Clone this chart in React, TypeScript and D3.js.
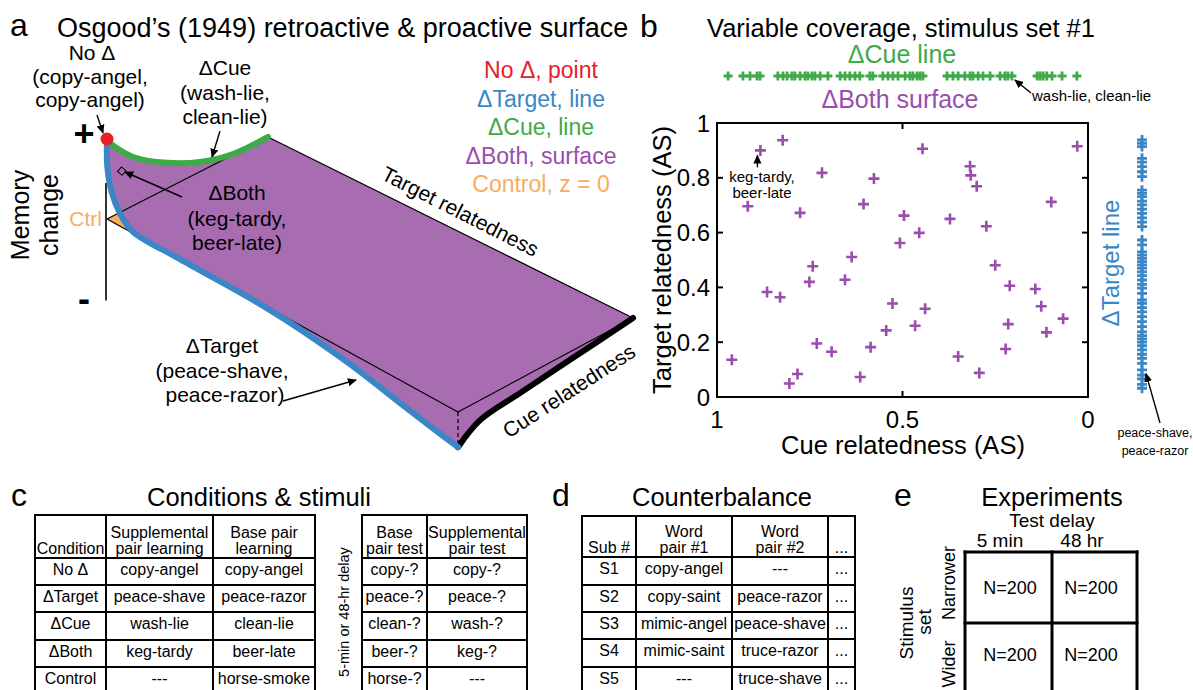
import React from "react";
import * as d3 from "d3";

const FONT = '"Liberation Sans", Arial, Helvetica, sans-serif';
const RED = "#E3222B";
const BLUE = "#3A86C6";
const GREEN = "#3EAA48";
const PURPLE_FILL = "#A86CB1";
const PURPLE = "#9A4DAE";
const ORANGE = "#F7AC62";

// ---------------- Panel a: schematic surface (values in abstract units) ----------------
// ΔCue line: [cue change, memory change]
const cueCurve: [number, number][] = [
  [0, 1], [0.019, 0.93], [0.161, 0.61], [0.373, 0.32], [0.578, 0.12], [0.783, 0.01], [1, 0],
];
// ΔTarget line: [target change, memory change]
const targetCurve: [number, number][] = [
  [0, 1], [0.001, 0.65], [0.014, 0.36], [0.037, 0.16], [0.074, 0.02], [0.2, 0], [0.4, -0.005],
  [0.5, -0.03], [0.6, -0.08], [0.7, -0.15], [0.8, -0.25], [0.9, -0.35], [1, -0.44],
];
// far edge (target change = 1): [cue change, memory change]
const farCurve: [number, number][] = [
  [0, -0.44], [0.126, -0.25], [0.354, -0.18], [0.64, -0.1], [1, 0],
];
const legendA = [
  { label: "No Δ, point", color: RED },
  { label: "ΔTarget, line", color: BLUE },
  { label: "ΔCue, line", color: GREEN },
  { label: "ΔBoth, surface", color: PURPLE },
  { label: "Control, z = 0", color: ORANGE },
];

// ---------------- Panel b data ----------------
const scatterCue = [
  0.96, 0.917, 0.883, 0.823, 0.865, 0.83, 0.805, 0.783, 0.776, 0.751, 0.742, 0.731, 0.717, 0.691,
  0.655, 0.637, 0.614, 0.605, 0.586, 0.577, 0.544, 0.527, 0.507, 0.496, 0.466, 0.455, 0.446, 0.439,
  0.372, 0.35, 0.318, 0.316, 0.3, 0.293, 0.274, 0.25, 0.222, 0.215, 0.211, 0.142, 0.126, 0.112,
  0.099, 0.067, 0.029,
];
const scatterTarget = [
  0.136, 0.696, 0.9, 0.937, 0.383, 0.364, 0.049, 0.084, 0.672, 0.42, 0.477, 0.195, 0.818, 0.165,
  0.428, 0.511, 0.073, 0.704, 0.182, 0.797, 0.243, 0.341, 0.562, 0.662, 0.26, 0.599, 0.906, 0.322,
  0.65, 0.148, 0.842, 0.809, 0.769, 0.088, 0.623, 0.481, 0.175, 0.266, 0.406, 0.394, 0.331, 0.236,
  0.712, 0.286, 0.915,
];
const cueLineValues = [
  0.97, 0.93, 0.911, 0.892, 0.884, 0.836, 0.822, 0.811, 0.798, 0.79, 0.776, 0.763, 0.755, 0.744,
  0.736, 0.722, 0.701, 0.668, 0.655, 0.642, 0.628, 0.615, 0.588, 0.58, 0.553, 0.539, 0.526, 0.512,
  0.493, 0.48, 0.472, 0.461, 0.453, 0.445, 0.38, 0.364, 0.35, 0.332, 0.318, 0.31, 0.296, 0.283,
  0.264, 0.237, 0.224, 0.216, 0.205, 0.137, 0.129, 0.121, 0.111, 0.097, 0.07, 0.03,
];
const targetLineValues = [
  0.938, 0.926, 0.914, 0.871, 0.857, 0.841, 0.822, 0.804, 0.755, 0.743, 0.731, 0.715, 0.701, 0.686,
  0.67, 0.654, 0.638, 0.622, 0.573, 0.555, 0.53, 0.518, 0.506, 0.494, 0.482, 0.47, 0.457, 0.443,
  0.427, 0.411, 0.397, 0.378, 0.354, 0.342, 0.326, 0.311, 0.293, 0.275, 0.257, 0.238, 0.224, 0.212,
  0.2, 0.187, 0.172, 0.156, 0.141, 0.123, 0.099, 0.08, 0.066, 0.046, 0.032,
];
const kegTardy = { cue: 0.883, target: 0.9 };
const washLie = { cue: 0.205 };
const peaceShave = { target: 0.1 };
const xTicks = [1, 0.5, 0];
const yTicks = [0, 0.2, 0.4, 0.6, 0.8, 1];

// ---------------- Tables ----------------
const condHeader = [["Condition"], ["Supplemental", "pair learning"], ["Base pair", "learning"]];
const condRows = [
  ["No Δ", "copy-angel", "copy-angel"],
  ["ΔTarget", "peace-shave", "peace-razor"],
  ["ΔCue", "wash-lie", "clean-lie"],
  ["ΔBoth", "keg-tardy", "beer-late"],
  ["Control", "---", "horse-smoke"],
];
const testHeader = [["Base", "pair test"], ["Supplemental", "pair test"]];
const testRows = [
  ["copy-?", "copy-?"],
  ["peace-?", "peace-?"],
  ["clean-?", "wash-?"],
  ["beer-?", "keg-?"],
  ["horse-?", "---"],
];
const cbHeader = [["Sub #"], ["Word", "pair #1"], ["Word", "pair #2"], ["..."]];
const cbRows = [
  ["S1", "copy-angel", "---", "..."],
  ["S2", "copy-saint", "peace-razor", "..."],
  ["S3", "mimic-angel", "peace-shave", "..."],
  ["S4", "mimic-saint", "truce-razor", "..."],
  ["S5", "---", "truce-shave", "..."],
];
const delays = ["5 min", "48 hr"];
const stimSets = ["Narrower", "Wider"];
const expN = [
  ["N=200", "N=200"],
  ["N=200", "N=200"],
];

// ---------------- helpers ----------------
const plus = (x: number, y: number, a: number) => `M${x - a},${y}H${x + a}M${x},${y - a}V${y + a}`;

function Table({ xs, ys, header, rows, fs = 16 }: any) {
  const bottom = 705;
  const out: any[] = [];
  xs.forEach((x: number, i: number) =>
    out.push(<line key={"v" + i} x1={x} x2={x} y1={ys[0] - 1} y2={bottom} stroke="#000" strokeWidth={2} />)
  );
  ys.forEach((y: number, i: number) =>
    out.push(<line key={"h" + i} x1={xs[0] - 1} x2={xs[xs.length - 1] + 1} y1={y} y2={y} stroke="#000" strokeWidth={2} />)
  );
  header.forEach((lines: string[], c: number) => {
    const cx = (xs[c] + xs[c + 1]) / 2;
    lines.forEach((t, k) => {
      const y = ys[1] - 4 - (lines.length - 1 - k) * 16.5;
      out.push(
        <text key={`hd${c}-${k}`} x={cx} y={y} fontSize={fs} textAnchor="middle">
          {t}
        </text>
      );
    });
  });
  rows.forEach((r: string[], j: number) =>
    r.forEach((t, c) =>
      out.push(
        <text key={`b${j}-${c}`} x={(xs[c] + xs[c + 1]) / 2} y={ys[j + 1] + 17} fontSize={fs} textAnchor="middle">
          {t}
        </text>
      )
    )
  );
  return <g>{out}</g>;
}

export default function App() {
  // ---------- panel a projection ----------
  const P00 = [107, 219], P10 = [268, 137], P01 = [458, 412], P11 = [633, 318];
  const zS = d3.scaleLinear().domain([-1, 1]).range([299, 139]);
  const proj = (c: number, t: number, z: number): [number, number] => {
    const x = P00[0] * (1 - c) * (1 - t) + P10[0] * c * (1 - t) + P01[0] * (1 - c) * t + P11[0] * c * t;
    const y = P00[1] * (1 - c) * (1 - t) + P10[1] * c * (1 - t) + P01[1] * (1 - c) * t + P11[1] * c * t;
    return [x, y + zS(z) - zS(0)];
  };
  const line = d3.line().curve(d3.curveCatmullRom.alpha(0.5));
  const greenPts = cueCurve.map(([c, z]) => proj(c, 0, z));
  const bluePts = targetCurve.map(([t, z]) => proj(0, t, z));
  const blackPts = farCurve.map(([c, z]) => proj(c, 1, z));
  const surf =
    (line(greenPts) as string) +
    "L" + proj(1, 1, 0).join(",") +
    (line(blackPts.slice().reverse()) as string).replace(/^M/, "L") +
    (line(bluePts.slice().reverse()) as string).replace(/^M/, "L") +
    "Z";
  const ctrlTri = [proj(0, 0, 0), proj(0.07, 0, 0), proj(0, 0.07, 0)];
  const red = proj(0, 0, 1);
  const dia = proj(0.07, 0.01, 0.55);
  const p00 = proj(0, 0, 0), p10 = proj(1, 0, 0), p01 = proj(0, 1, 0), p11 = proj(1, 1, 0);
  const dashEnd = proj(0, 1, -0.38);
  const axTop = proj(0, 0, 0.45), axBot = proj(0, 0, -1.02);

  // ---------- panel b scales ----------
  const x = d3.scaleLinear().domain([1, 0]).range([717, 1088]);
  const y = d3.scaleLinear().domain([0, 1]).range([397, 123]);
  const cueY = 76;
  const targetX = 1142;

  const arrow = (x1: number, y1: number, x2: number, y2: number, k: string) => (
    <line key={k} x1={x1} y1={y1} x2={x2} y2={y2} stroke="#000" strokeWidth={1.4} markerEnd="url(#ah)" />
  );

  return (
    <svg
      width={1193}
      height={690}
      style={{ position: "absolute", left: 0, top: 0, background: "#fff" }}
      fontFamily={FONT}
    >
      <defs>
        <marker id="ah" viewBox="0 0 10 10" refX="9" refY="5" markerWidth="9" markerHeight="9" markerUnits="userSpaceOnUse" orient="auto">
          <path d="M0,0.5L10,5L0,9.5z" fill="#000" />
        </marker>
      </defs>
      <rect width={1193} height={690} fill="#fff" />

      {/* ================= Panel a ================= */}
      <text x={10} y={36} fontSize={32}>a</text>
      <text x={57} y={37} fontSize={27}>Osgood’s (1949) retroactive &amp; proactive surface</text>

      <path d={surf} fill={PURPLE_FILL} />
      <polygon points={ctrlTri.map((p) => p.join(",")).join(" ")} fill={ORANGE} />
      <line x1={p00[0]} y1={p00[1]} x2={p10[0]} y2={p10[1]} stroke="#000" strokeWidth={1.2} />
      <line x1={p00[0]} y1={p00[1]} x2={p01[0]} y2={p01[1]} stroke="#000" strokeWidth={1.2} />
      <line x1={p01[0]} y1={p01[1]} x2={p11[0]} y2={p11[1]} stroke="#000" strokeWidth={1.2} />
      <line x1={p10[0]} y1={p10[1]} x2={p11[0]} y2={p11[1]} stroke="#000" strokeWidth={1.2} />
      <line x1={p01[0]} y1={p01[1]} x2={dashEnd[0]} y2={dashEnd[1]} stroke="#000" strokeWidth={1.2} strokeDasharray="4,3" />
      <line x1={axTop[0] - 1} y1={axTop[1]} x2={axBot[0] - 1} y2={axBot[1]} stroke="#000" strokeWidth={1.6} />
      <path d={line(blackPts) as string} fill="none" stroke="#000" strokeWidth={6} strokeLinecap="round" />
      <path d={line(bluePts) as string} fill="none" stroke={BLUE} strokeWidth={6} strokeLinecap="round" />
      <path d={line(greenPts) as string} fill="none" stroke={GREEN} strokeWidth={6} strokeLinecap="round" />
      <circle cx={red[0]} cy={red[1]} r={6.5} fill={RED} />
      <rect x={dia[0] - 3} y={dia[1] - 3} width={6} height={6} fill="none" stroke="#000" strokeWidth={1} transform={`rotate(40 ${dia[0]} ${dia[1]})`} />

      <text x={84} y={146} fontSize={36} fontWeight="bold" textAnchor="middle">+</text>
      <text x={84} y={311} fontSize={36} fontWeight="bold" textAnchor="middle">-</text>
      <text transform="translate(29,215) rotate(-90)" fontSize={25} textAnchor="middle">Memory</text>
      <text transform="translate(58,215) rotate(-90)" fontSize={25} textAnchor="middle">change</text>
      <text x={102} y={226} fontSize={21} fill={ORANGE} textAnchor="end">Ctrl</text>

      <g fontSize={21} textAnchor="middle">
        <text x={92} y={60}>No Δ</text>
        <text x={90} y={84}>(copy-angel,</text>
        <text x={90} y={107}>copy-angel)</text>
        <text x={225} y={75}>ΔCue</text>
        <text x={225} y={100}>(wash-lie,</text>
        <text x={225} y={124}>clean-lie)</text>
        <text x={237} y={200}>ΔBoth</text>
        <text x={237} y={226}>(keg-tardy,</text>
        <text x={237} y={250}>beer-late)</text>
        <text x={222} y={353}>ΔTarget</text>
        <text x={222} y={378}>(peace-shave,</text>
        <text x={225} y={402}>peace-razor)</text>
      </g>
      {arrow(97, 115, 103, 133, "a1")}
      {arrow(220, 131, 212, 157, "a2")}
      {arrow(182, 197, 125, 172, "a3")}
      {arrow(283, 401, 356, 380, "a4")}

      <g fontSize={23} textAnchor="middle">
        {legendA.map((d, i) => (
          <text key={d.label} x={541} y={78 + i * 28.5} fill={d.color}>
            {d.label}
          </text>
        ))}
      </g>
      <text transform="translate(457,218) rotate(27)" fontSize={21} textAnchor="middle">Target relatedness</text>
      <text transform="translate(573,397) rotate(-33)" fontSize={21} textAnchor="middle">Cue relatedness</text>

      {/* ================= Panel b ================= */}
      <text x={640} y={37} fontSize={32}>b</text>
      <text x={901} y={37} fontSize={25.5} textAnchor="middle">Variable coverage, stimulus set #1</text>
      <text x={902} y={63} fontSize={25} fill={GREEN} textAnchor="middle">ΔCue line</text>
      <text x={900} y={108} fontSize={25} fill={PURPLE} textAnchor="middle">ΔBoth surface</text>

      {cueLineValues.map((v, i) => (
        <path key={"c" + i} d={plus(x(v), cueY, 4.5)} stroke={GREEN} strokeWidth={2.8} />
      ))}
      {targetLineValues.map((v, i) => (
        <path key={"t" + i} d={plus(targetX, y(v), 5)} stroke={BLUE} strokeWidth={2.8} />
      ))}
      <text transform={`translate(1119,263) rotate(-90)`} fontSize={24} fill={BLUE} textAnchor="middle">ΔTarget line</text>

      {/* axes box */}
      <rect x={717} y={123} width={371} height={274} fill="none" stroke="#000" strokeWidth={2} />
      {yTicks.map((t) => (
        <g key={"yt" + t}>
          <line x1={717} x2={723} y1={y(t)} y2={y(t)} stroke="#000" strokeWidth={2} />
          <line x1={1082} x2={1088} y1={y(t)} y2={y(t)} stroke="#000" strokeWidth={2} />
          <text x={710} y={y(t) + 8.5} fontSize={24} textAnchor="end">{String(t)}</text>
        </g>
      ))}
      {xTicks.map((t) => (
        <g key={"xt" + t}>
          <line x1={x(t)} x2={x(t)} y1={397} y2={391} stroke="#000" strokeWidth={2} />
          <line x1={x(t)} x2={x(t)} y1={123} y2={129} stroke="#000" strokeWidth={2} />
          <text x={x(t)} y={428} fontSize={24} textAnchor="middle">{String(t)}</text>
        </g>
      ))}
      <text x={903} y={454} fontSize={25.5} textAnchor="middle">Cue relatedness (AS)</text>
      <text transform="translate(671,260) rotate(-90)" fontSize={25.5} textAnchor="middle">Target relatedness (AS)</text>

      {scatterCue.map((c, i) => (
        <path key={"s" + i} d={plus(x(c), y(scatterTarget[i]), 5.5)} stroke={PURPLE} strokeWidth={2.6} />
      ))}
      {arrow(x(kegTardy.cue) - 3, y(kegTardy.target) + 17, x(kegTardy.cue) - 3, y(kegTardy.target) + 5, "b1")}
      <g fontSize={15} textAnchor="middle">
        <text x={762} y={182}>keg-tardy,</text>
        <text x={762} y={198}>beer-late</text>
      </g>
      {arrow(1031, 93, x(washLie.cue) + 3, cueY + 4, "b2")}
      <text x={1032} y={101} fontSize={15}>wash-lie, clean-lie</text>
      {arrow(1160, 423, targetX + 4, y(peaceShave.target) + 4, "b3")}
      <g fontSize={12.5} textAnchor="middle">
        <text x={1155} y={437}>peace-shave,</text>
        <text x={1155} y={455}>peace-razor</text>
      </g>

      {/* ================= Panel c ================= */}
      <text x={11} y={506} fontSize={32}>c</text>
      <text x={147} y={506} fontSize={25.5}>Conditions &amp; stimuli</text>
      <Table xs={[35, 106, 213, 315]} ys={[515, 558, 585, 612, 640, 667]} header={condHeader} rows={condRows} />
      <text transform="translate(349,612) rotate(-90)" fontSize={14.5} textAnchor="middle">5-min or 48-hr delay</text>
      <Table xs={[362, 427, 527]} ys={[515, 558, 585, 612, 640, 667]} header={testHeader} rows={testRows} />

      {/* ================= Panel d ================= */}
      <text x={552} y={506} fontSize={32}>d</text>
      <text x={722} y={506} fontSize={25.5} textAnchor="middle">Counterbalance</text>
      <Table xs={[582, 636, 732, 828, 855]} ys={[516, 557, 585, 612, 639, 667]} header={cbHeader} rows={cbRows} />

      {/* ================= Panel e ================= */}
      <text x={894} y={506} fontSize={32}>e</text>
      <text x={1052} y={506} fontSize={25.5} textAnchor="middle">Experiments</text>
      <text x={1052} y={527} fontSize={19} textAnchor="middle">Test delay</text>
      {delays.map((d, i) => (
        <text key={d} x={[1000, 1082][i]} y={547} fontSize={19} textAnchor="middle">{d}</text>
      ))}
      {[965, 1052, 1137].map((xx) => (
        <line key={"ev" + xx} x1={xx} x2={xx} y1={550.5} y2={705} stroke="#000" strokeWidth={3} />
      ))}
      {[552, 623].map((yy) => (
        <line key={"eh" + yy} x1={963.5} x2={1138.5} y1={yy} y2={yy} stroke="#000" strokeWidth={3} />
      ))}
      {expN.map((r, j) =>
        r.map((t, i) => (
          <text key={`n${j}${i}`} x={[1010, 1091][i]} y={[594, 661][j]} fontSize={18} textAnchor="middle">{t}</text>
        ))
      )}
      <text transform="translate(913,623) rotate(-90)" fontSize={19} textAnchor="middle">Stimulus</text>
      <text transform="translate(931,622) rotate(-90)" fontSize={19} textAnchor="middle">set</text>
      {stimSets.map((s, i) => (
        <text key={s} transform={`translate(955,${[583, 664][i]}) rotate(-90)`} fontSize={18} textAnchor="middle">{s}</text>
      ))}
    </svg>
  );
}
